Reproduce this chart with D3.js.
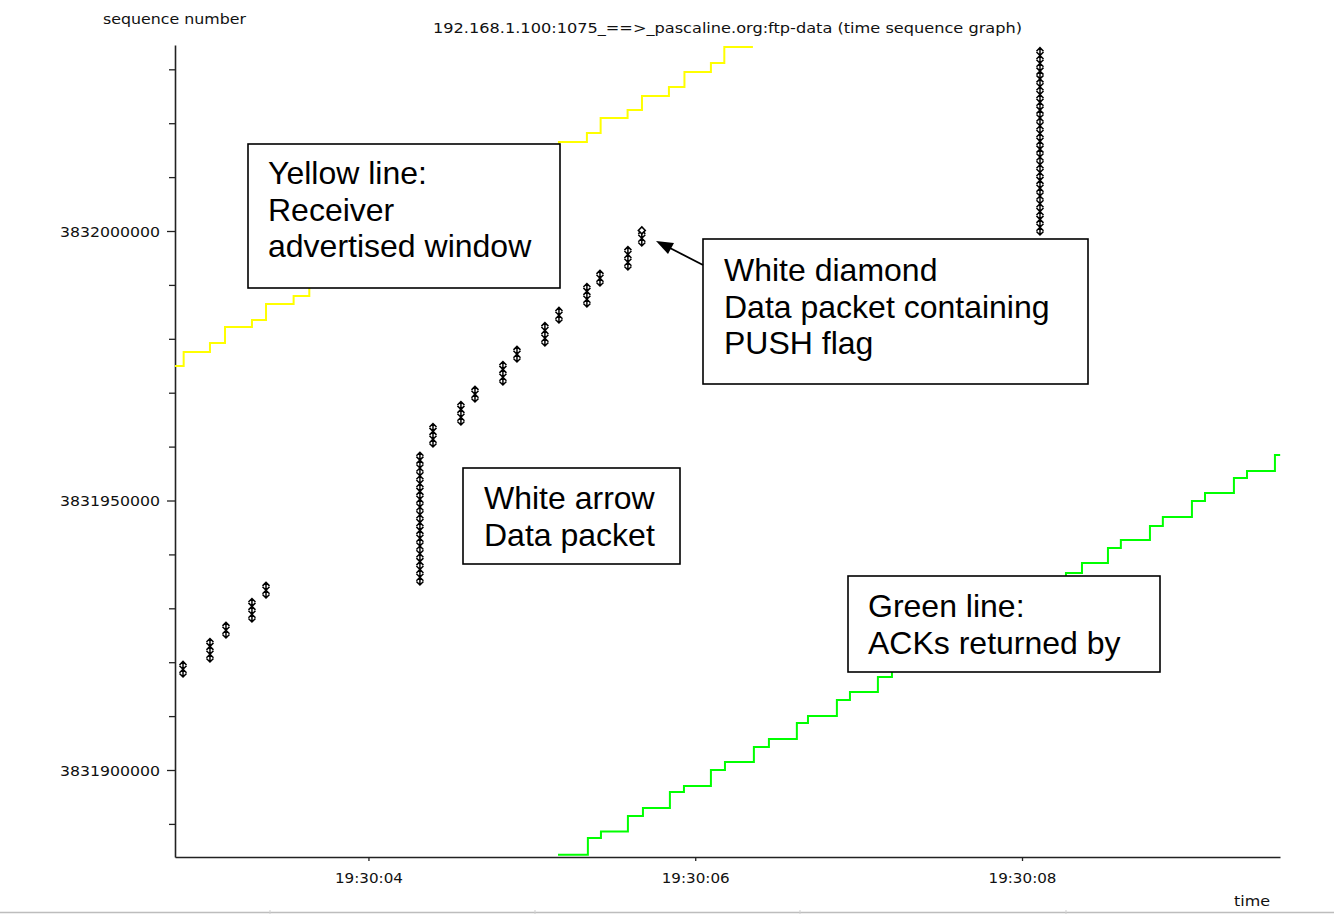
<!DOCTYPE html>
<html><head><meta charset="utf-8">
<script src="https://cdn.jsdelivr.net/npm/d3@7"></script>
<style>body{margin:0;background:#fff;} svg{display:block;}</style>
</head><body>
<script>
// ---------- data (time = seconds after 19:30:00, seq = TCP sequence number) ----------
const packetLength = 1448;
const burstTimes    = [2.865, 3.030, 3.128, 3.287, 3.373, 4.315, 4.395, 4.566, 4.652, 4.823, 4.909, 5.080, 5.166, 5.337, 5.417, 5.588, 5.673, 8.110];
const burstStartSeq = [3831917250, 3831920040, 3831924490, 3831927460, 3831931910, 3831934320, 3831959930, 3831964010, 3831968280, 3831971430, 3831975700, 3831978660, 3831982930, 3831985900, 3831989800, 3831992760, 3831997220, 3831999260];
const burstPackets  = [2, 3, 2, 3, 2, 17, 3, 3, 2, 3, 2, 3, 2, 3, 2, 3, 2, 24];
const pushBurst = 16;   // burst whose last packet carries PUSH

const windowTimes = [2.816, 2.869, 3.030, 3.122, 3.287, 3.373, 3.542, 3.638, 4.315, 4.395, 4.566, 4.652, 4.823, 4.909, 5.080, 5.166, 5.337, 5.421, 5.586, 5.674, 5.839, 5.934, 6.096, 6.178, 6.353];
const windowSeq   = [3831974950, 3831977550, 3831979220, 3831982190, 3831983490, 3831986460, 3831987940, 3831990720, 3831994250, 3831995730, 3831998700, 3832000370, 3832005750, 3832009830, 3832013170, 3832016510, 3832018180, 3832020960, 3832022450, 3832025050, 3832026720, 3832029500, 3832031170, 3832034140, 3832034140];

const ackTimes = [5.160, 5.343, 5.423, 5.588, 5.680, 5.845, 5.931, 6.096, 6.182, 6.359, 6.451, 6.622, 6.690, 6.867, 6.947, 7.118, 7.204, 7.375, 7.461, 7.632, 7.718, 7.889, 7.975, 8.146, 8.269, 8.367, 8.526, 8.605, 8.783, 8.862, 9.040, 9.120, 9.297, 9.377, 9.548, 9.580];
const ackSeq   = [3831884300, 3831887380, 3831888590, 3831891470, 3831892950, 3831895920, 3831897030, 3831900000, 3831901480, 3831904270, 3831905750, 3831908720, 3831910020, 3831912990, 3831914470, 3831917250, 3831918740, 3831921710, 3831923190, 3831926160, 3831927640, 3831930610, 3831932100, 3831935060, 3831936550, 3831938400, 3831941190, 3831942670, 3831945270, 3831946940, 3831949910, 3831951390, 3831954170, 3831955470, 3831958440, 3831958440];

const xTickValues = [4, 6, 8];
const xTickLabels = ["19:30:04", "19:30:06", "19:30:08"];
const yTickValues = [3831890000, 3831900000, 3831910000, 3831920000, 3831930000, 3831940000, 3831950000, 3831960000, 3831970000, 3831980000, 3831990000, 3832000000, 3832010000, 3832020000, 3832030000];
const yLabelValues = [3831900000, 3831950000, 3832000000];

const titleText = "192.168.1.100:1075_==>_pascaline.org:ftp-data (time sequence graph)";
const yAxisTitle = "sequence number";
const xAxisTitle = "time";

const noteLines = [
  ["Yellow line:", "Receiver", "advertised window"],
  ["White diamond", "Data packet containing", "PUSH flag"],
  ["White arrow", "Data packet"],
  ["Green line:", "ACKs returned by"]
];

// ---------- chart ----------
const W = 1334, H = 914;
const svg = d3.select("body").append("svg").attr("width", W).attr("height", H);
svg.append("rect").attr("width", W).attr("height", H).attr("fill", "#fff");

const x = d3.scaleLinear().domain([2.816, 9.579]).range([175, 1280]);
const y = d3.scaleLinear().domain([3831883860, 3832034510]).range([857, 45]);

const pixFont = "'DejaVu Sans', sans-serif";
const pixSize = 14;

// axes
const yAxis = d3.axisLeft(y).tickValues(yTickValues).tickSize(6).tickSizeOuter(0).tickPadding(9)
  .tickFormat(d => yLabelValues.includes(d) ? String(d) : "");
const gy = svg.append("g").attr("transform", "translate(175,0)").call(yAxis);
gy.select(".domain").attr("stroke", "#222").attr("stroke-width", 1.6);
gy.selectAll(".tick line").attr("stroke", "#222").attr("stroke-width", 1.3)
  .attr("x2", d => yLabelValues.includes(d) ? -8 : -6);
gy.selectAll(".tick text").attr("font-family", pixFont).attr("font-size", pixSize).attr("fill", "#111")
  .attr("textLength", 100).attr("lengthAdjust", "spacingAndGlyphs").attr("dy", "0.36em");

const xAxis = d3.axisBottom(x).tickValues(xTickValues).tickSize(4).tickSizeOuter(0).tickPadding(12)
  .tickFormat((d, i) => xTickLabels[i]);
const gx = svg.append("g").attr("transform", "translate(0,857)").call(xAxis);
gx.select(".domain").attr("stroke", "#222").attr("stroke-width", 1.6);
gx.selectAll(".tick line").attr("stroke", "#222").attr("stroke-width", 1.3);
gx.selectAll(".tick text").attr("font-family", pixFont).attr("font-size", pixSize).attr("fill", "#111")
  .attr("textLength", 68).attr("lengthAdjust", "spacingAndGlyphs");

// titles
svg.append("text").attr("x", 103).attr("y", 24).text(yAxisTitle)
  .attr("font-family", pixFont).attr("font-size", pixSize).attr("fill", "#111")
  .attr("textLength", 143).attr("lengthAdjust", "spacingAndGlyphs");
svg.append("text").attr("x", 433).attr("y", 33).text(titleText)
  .attr("font-family", pixFont).attr("font-size", pixSize).attr("fill", "#111")
  .attr("textLength", 589).attr("lengthAdjust", "spacingAndGlyphs");
svg.append("text").attr("x", 1234).attr("y", 906).text(xAxisTitle)
  .attr("font-family", pixFont).attr("font-size", pixSize).attr("fill", "#111")
  .attr("textLength", 36).attr("lengthAdjust", "spacingAndGlyphs");

// step lines
const stepLine = d3.line().x(d => x(d[0])).y(d => y(d[1])).curve(d3.curveStepAfter);
svg.append("path").datum(windowTimes.map((t, i) => [t, windowSeq[i]]))
  .attr("d", stepLine).attr("fill", "none").attr("stroke", "#ffff00").attr("stroke-width", 2);
svg.append("path").datum(ackTimes.map((t, i) => [t, ackSeq[i]]))
  .attr("d", stepLine).attr("fill", "none").attr("stroke", "#00ff00").attr("stroke-width", 2);

// packets
const packets = [];
burstTimes.forEach((t, i) => {
  for (let k = 0; k < burstPackets[i]; k++) {
    const s = burstStartSeq[i] + k * packetLength;
    packets.push({t, s, e: s + packetLength, push: i === pushBurst && k === burstPackets[i] - 1});
  }
});
const a = 3.5;
svg.append("g").selectAll("path").data(packets).join("path")
  .attr("d", d => {
    const px = x(d.t), ys = y(d.s), ye = y(d.e);
    return `M${px},${ys}V${ye}` +
      `M${px - a},${ye + a}L${px},${ye}L${px + a},${ye + a}` +
      `M${px - a},${ys - a}L${px},${ys}L${px + a},${ys - a}`;
  })
  .attr("fill", "none").attr("stroke", "#000").attr("stroke-width", 1.5);
svg.append("g").selectAll("path").data(packets.filter(d => d.push)).join("path")
  .attr("d", d => {
    const px = x(d.t), ye = y(d.e), r = 3.5;
    return `M${px},${ye - r}L${px + r},${ye}L${px},${ye + r}L${px - r},${ye}Z`;
  })
  .attr("fill", "#fff").attr("stroke", "#000").attr("stroke-width", 1.5);

// annotation boxes
const boxes = [
  {x0: 248, y0: 144, x1: 560, y1: 288, tx: 268, ty: 184},
  {x0: 703, y0: 239, x1: 1088, y1: 384, tx: 724, ty: 281},
  {x0: 463, y0: 468, x1: 680, y1: 564, tx: 484, ty: 509},
  {x0: 848, y0: 576, x1: 1160, y1: 672, tx: 868, ty: 617}
];
const gb = svg.append("g");
boxes.forEach((b, i) => {
  gb.append("rect").attr("x", b.x0).attr("y", b.y0).attr("width", b.x1 - b.x0).attr("height", b.y1 - b.y0)
    .attr("fill", "#fff").attr("stroke", "#000").attr("stroke-width", 1.6);
  noteLines[i].forEach((line, j) => {
    gb.append("text").attr("x", b.tx).attr("y", b.ty + j * 36.5).text(line)
      .attr("font-family", "'Liberation Sans', Arial, sans-serif").attr("font-size", 32).attr("fill", "#000");
  });
});

// pointer arrow to the PUSH packet
svg.append("line").attr("x1", 703).attr("y1", 265).attr("x2", 668).attr("y2", 247)
  .attr("stroke", "#000").attr("stroke-width", 1.8);
svg.append("path").attr("d", "M656,241L674,243L668,254Z").attr("fill", "#000");

// bottom status border
svg.append("line").attr("x1", 0).attr("x2", W).attr("y1", 912.5).attr("y2", 912.5)
  .attr("stroke", "#bdbdbd").attr("stroke-width", 1.5);
[270, 535, 800, 1066].forEach(sx => {
  svg.append("line").attr("x1", sx).attr("x2", sx).attr("y1", 910).attr("y2", 914)
    .attr("stroke", "#cfcfcf").attr("stroke-width", 1);
});
</script>
</body></html>
